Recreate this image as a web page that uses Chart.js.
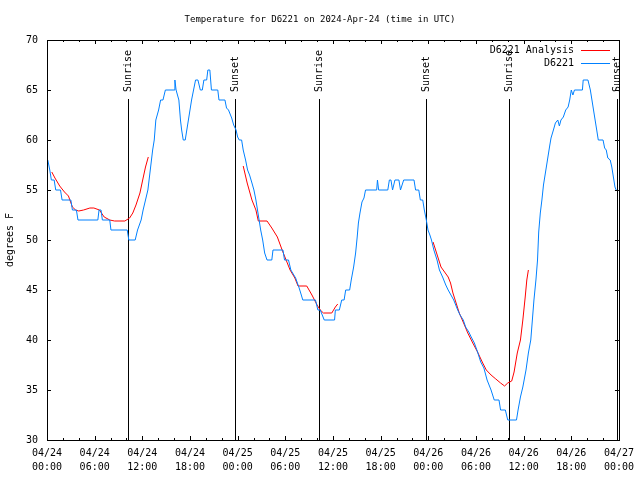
<!DOCTYPE html>
<html><head><meta charset="utf-8">
<script src="https://cdn.jsdelivr.net/npm/chart.js@4/dist/chart.umd.min.js"></script>
<style>html,body{margin:0;padding:0;background:#fff}#wrap{width:640px;height:480px}</style>
</head><body><div id="wrap"><canvas id="c" width="640" height="480"></canvas></div>
<script>
const titleText = 'Temperature for D6221 on 2024-Apr-24 (time in UTC)';
const yAxisTitle = 'degrees F';
const seriesNames = ['D6221 Analysis', 'D6221'];
const dayLabels = ['04/24', '04/25', '04/26', '04/27'];
const hourLabels = ['00:00', '06:00', '12:00', '18:00'];

// D6221 observations (hours since 04/24 00:00 UTC, degrees F)
const blueHours = [0.1,0.35,0.55,0.9,1.1,1.7,1.9,3.0,3.2,3.7,3.9,6.4,6.55,6.8,6.97,7.9,8.05,10.1,10.3,11.1,11.4,11.85,12.1,12.4,12.7,13.0,13.3,13.5,13.7,14.05,14.3,14.6,14.9,16.0,16.1,16.25,16.6,16.8,16.95,17.15,17.4,17.6,17.8,18.0,18.2,18.45,18.7,19.0,19.3,19.55,19.75,20.1,20.25,20.5,20.7,21.5,21.65,22.4,22.6,22.85,23.25,23.5,23.8,24.0,24.2,24.5,24.7,25.0,25.25,25.5,25.8,26.05,26.3,26.5,26.7,26.9,27.15,27.4,27.7,28.3,28.45,29.7,29.9,30.4,30.7,31.3,31.7,31.9,32.2,33.8,34.1,34.4,34.9,36.2,36.3,36.8,37.1,37.4,37.6,38.1,38.3,38.6,38.85,39.05,39.2,39.4,39.65,39.9,40.1,41.5,41.6,41.75,42.9,43.1,43.3,43.5,43.8,44.3,44.5,44.9,46.2,46.4,46.8,47.0,47.3,47.5,47.75,47.96,48.2,48.4,48.7,48.9,49.1,49.4,49.8,50.2,50.5,50.85,51.2,51.7,52.0,52.4,52.7,53.1,53.4,53.8,54.2,54.6,55.0,55.4,55.9,56.3,56.9,57.1,57.7,58.0,59.1,59.3,59.6,59.9,60.3,60.6,60.9,61.1,61.3,61.55,61.75,61.9,62.1,62.3,62.5,62.7,62.9,63.1,63.3,63.45,63.75,64.0,64.3,64.5,64.7,65.0,65.3,65.6,65.8,66.0,66.2,66.4,67.4,67.5,68.1,68.4,68.6,68.8,69.0,69.2,69.4,70.0,70.2,70.4,70.6,70.9,71.1,71.3,71.5,71.65];
const blueTemps = [58,57,56,56,55,55,54,54,53,53,52,52,53,53,52,52,51,51,50,50,51,52,53,54,55,57,59,60,62,63,64,64,65,65,66,65,64,62,61,60,60,61,62,63,64,65,66,66,65,65,66,66,67,67,65,65,64,64,63.2,63,62.2,61.5,61,60.3,60,60,59,58,57,56.5,55.7,55,54,53,52,51,50,48.7,48,48,49,49,48,48,47,46.2,45.3,44.8,44,44,43,43,42,42,43,43,44,44,45,45,46,47.3,48.7,50.3,51.7,52.7,53.8,54.2,55,55,56,55,55,56,56,55,56,56,55,56,56,55,55,54,54,53,52,51,50.5,50,49,48.5,48,47,46.3,45.5,45,44.5,44,43,42.5,42,41.3,40.8,40.3,39.7,38.8,37.8,37.2,36,35,34,34,33,33,32,32,33,34.3,35.3,37,38.7,40,42,44,46,48,50.8,52.7,54,55.5,56.5,57.5,58.5,59.5,60.2,61,61.7,62,61.4,62,62.3,63,63.3,64,65,64.5,65,65,66,66,65,64,63,62,61,60,60,59.2,59,58.2,58,57.3,56.3,55.3,55];

// D6221 Analysis (null = gap)
const redHours = [0.6,1.0,1.6,2.2,2.7,3.2,3.6,4.0,4.6,5.4,5.9,6.6,7.2,7.9,8.5,9.8,10.4,10.8,11.2,11.7,12.1,12.4,12.75,18.0,24.7,25.2,25.8,26.3,26.6,27.7,28.3,29.0,29.6,30.0,30.6,31.2,31.6,32.7,33.35,34.0,34.4,34.8,35.85,36.3,36.6,42.0,48.6,49.0,49.6,50.05,50.5,50.8,51.1,51.5,51.9,52.55,52.97,53.6,54.2,54.85,55.3,55.9,56.5,57.1,57.6,58.0,58.5,58.8,59.2,59.6,59.9,60.2,60.4,60.6];
const redTemps = [56.8,56.2,55.4,54.8,54.4,53.3,53,52.9,53,53.2,53.2,53,52.3,52,51.9,51.9,52.2,52.7,53.5,54.7,56.2,57.3,58.3,null,57.4,55.7,54,53,51.9,51.9,51.2,50.3,49,48.2,47,46.2,45.4,45.4,44.5,43.5,43,42.7,42.7,43.3,43.6,null,49.8,48.8,47.3,46.8,46.3,45.7,44.7,43.7,42.7,41.5,40.7,39.7,38.8,37.7,37,36.5,36.1,35.7,35.4,35.7,35.9,36.8,38.7,40,42,44.3,46,47];

const sunHours = [10.14, 23.67, 34.19, 47.7, 58.2, 71.75];
const sunNames = ['Sunrise', 'Sunset', 'Sunrise', 'Sunset', 'Sunrise', 'Sunset'];

const RED = '#ff0000';
const BLUE = 'rgb(0,128,255)';
const FONT = 'DejaVu Sans Mono';

const toPts = (hs, ts) => hs.map((h, i) => ({x: h, y: ts[i]}));

const gnuplotPlugin = {
  id: 'gnuplotDecor',
  beforeDatasetsDraw(chart) {
    const ctx = chart.ctx, a = chart.chartArea, xs = chart.scales.x;
    ctx.save();
    ctx.strokeStyle = '#000'; ctx.lineWidth = 1;
    ctx.fillStyle = '#000';
    ctx.font = '10px "' + FONT + '"';
    sunHours.forEach((h, i) => {
      const px = Math.round(xs.getPixelForValue(h)) + 0.5;
      ctx.beginPath(); ctx.moveTo(px, 99); ctx.lineTo(px, a.bottom); ctx.stroke();
      ctx.save();
      ctx.translate(px, 92); ctx.rotate(-Math.PI / 2);
      ctx.textAlign = 'left'; ctx.textBaseline = 'middle';
      ctx.fillText(sunNames[i], 0, 0);
      ctx.restore();
    });
    ctx.restore();
  },
  afterDraw(chart) {
    const ctx = chart.ctx, a = chart.chartArea, xs = chart.scales.x, ys = chart.scales.y;
    ctx.save();
    ctx.strokeStyle = '#000'; ctx.lineWidth = 1;
    const line = (x1, y1, x2, y2) => { ctx.beginPath(); ctx.moveTo(x1, y1); ctx.lineTo(x2, y2); ctx.stroke(); };
    for (let h = 0; h <= 72; h += 2) {
      const px = Math.round(xs.getPixelForValue(h)) + 0.5;
      const len = h % 6 === 0 ? 4 : 2;
      line(px, a.bottom, px, a.bottom - len);
      line(px, a.top, px, a.top + len);
    }
    ys.ticks.forEach(t => {
      const py = Math.round(ys.getPixelForValue(t.value)) + 0.5;
      line(a.left, py, a.left + 4, py);
      line(a.right, py, a.right - 4, py);
    });
    ctx.strokeRect(Math.round(a.left) + 0.5, Math.round(a.top) + 0.5, Math.round(a.right - a.left), Math.round(a.bottom - a.top));
    // legend
    ctx.font = '10px "' + FONT + '"';
    ctx.fillStyle = '#000';
    ctx.textAlign = 'right'; ctx.textBaseline = 'middle';
    const colors = [RED, BLUE];
    seriesNames.forEach((n, i) => {
      const y = 50 + i * 13;
      ctx.fillText(n, 574, y);
      ctx.strokeStyle = colors[i];
      line(581, y + 0.5, 610, y + 0.5);
    });
    ctx.restore();
  }
};

new Chart(document.getElementById('c'), {
  type: 'line',
  data: {
    datasets: [
      { label: seriesNames[1], data: toPts(blueHours, blueTemps), borderColor: BLUE, borderWidth: 1, pointRadius: 0, tension: 0, fill: false },
      { label: seriesNames[0], data: toPts(redHours, redTemps), borderColor: RED, borderWidth: 1, pointRadius: 0, tension: 0, fill: false, spanGaps: false }
    ]
  },
  options: {
    responsive: false,
    animation: false,
    events: [],
    layout: { padding: { left: 9, right: 9, top: 0, bottom: 0 } },
    plugins: {
      legend: { display: false },
      tooltip: { enabled: false },
      title: { display: true, text: titleText, color: '#000', font: { family: FONT, size: 9, weight: 'normal', lineHeight: 1.2 }, padding: { top: 14.5, bottom: 14.7 } }
    },
    scales: {
      x: {
        type: 'linear', min: 0, max: 72,
        grid: { display: false, drawTicks: false },
        border: { display: false },
        afterFit: s => { s.height = 40; },
        ticks: {
          stepSize: 6, autoSkip: false, maxRotation: 0, padding: 6, color: '#000',
          font: { family: FONT, size: 10, lineHeight: 1.4 },
          callback: v => [dayLabels[Math.floor(v / 24)], hourLabels[(v % 24) / 6]]
        }
      },
      y: {
        min: 30, max: 70,
        grid: { display: false, drawTicks: false },
        border: { display: false },
        afterFit: s => { s.width = 38; },
        title: { display: true, text: yAxisTitle, color: '#000', font: { family: FONT, size: 10, lineHeight: 1.2 }, padding: { top: -5, bottom: 0 } },
        ticks: { stepSize: 5, padding: 9, color: '#000', font: { family: FONT, size: 10 } }
      }
    }
  },
  plugins: [gnuplotPlugin]
});
</script>
</body></html>
